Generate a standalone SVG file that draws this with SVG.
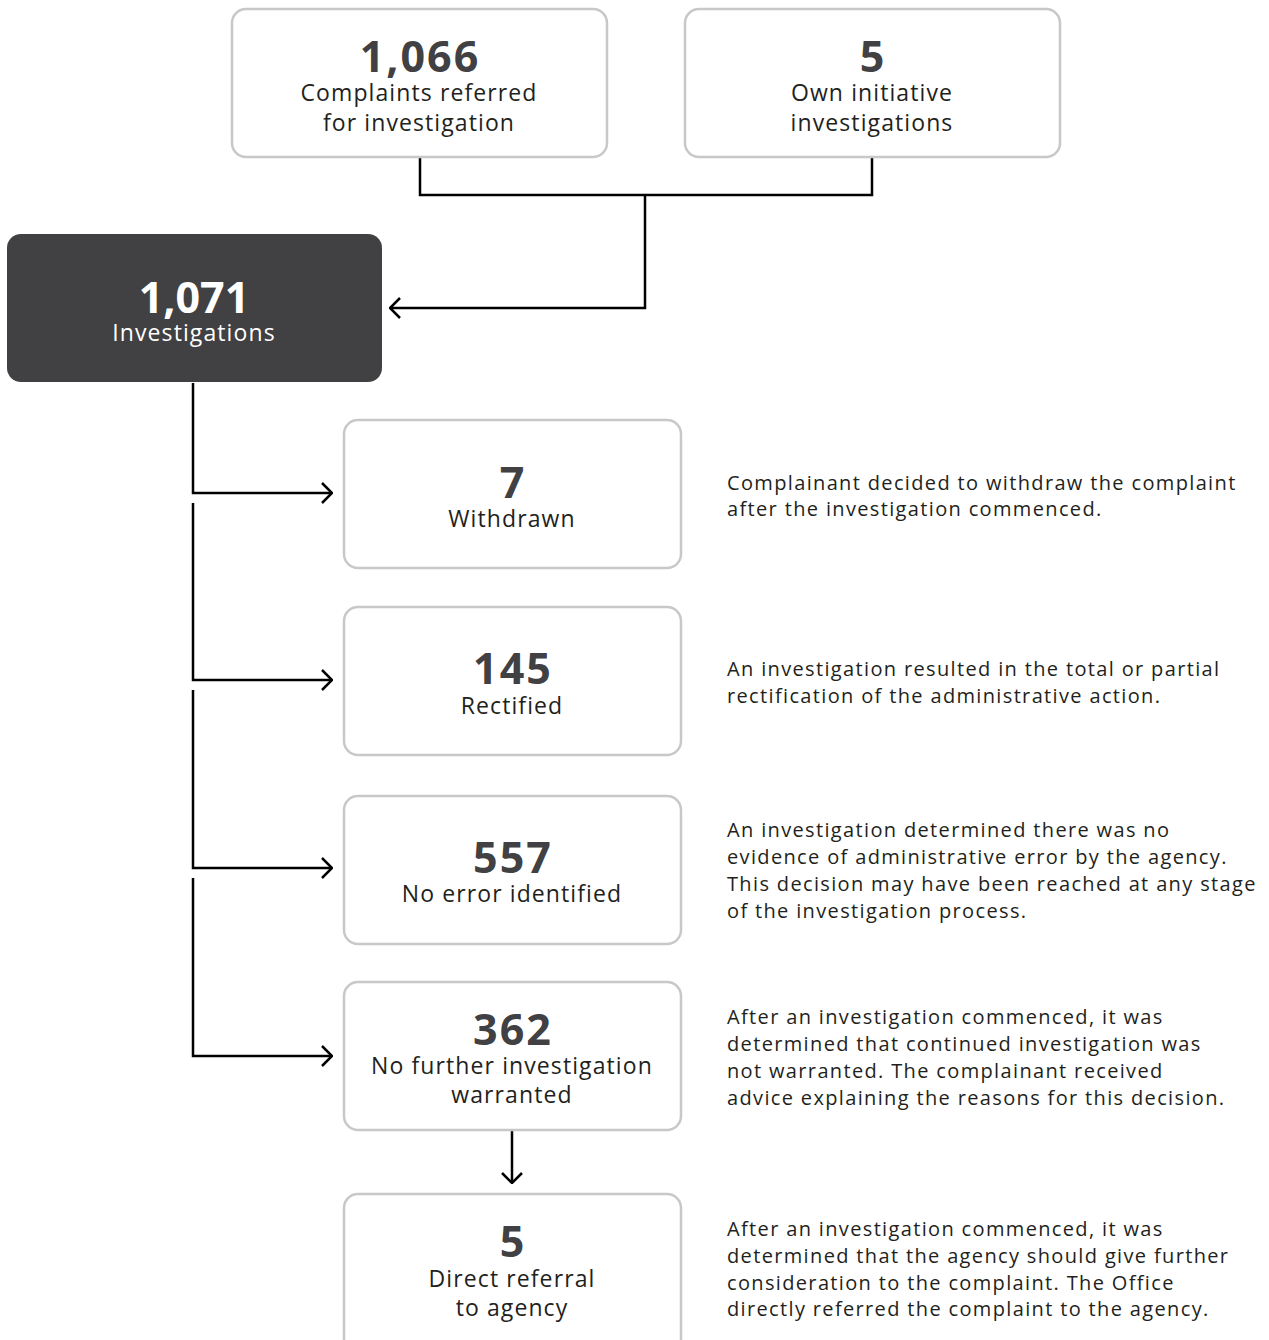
<svg xmlns="http://www.w3.org/2000/svg" width="1269" height="1340" viewBox="0 0 1269 1340">
<defs>
<style>
.box{fill:#fff;stroke:#c8c8c8;stroke-width:2.5}
.dark{fill:#414042}
.num{font-family:"Open Sans","Liberation Sans",sans-serif;font-weight:bold;font-size:43px;letter-spacing:2px;fill:#414042;text-anchor:middle}
.lbl{font-family:"Open Sans","Liberation Sans",sans-serif;font-size:23px;letter-spacing:1.1px;fill:#231f20;text-anchor:middle}
.wnum{font-family:"Open Sans","Liberation Sans",sans-serif;font-weight:bold;font-size:43px;fill:#fff;text-anchor:middle}
.wlbl{font-family:"Open Sans","Liberation Sans",sans-serif;font-size:23px;letter-spacing:1.1px;fill:#fff;text-anchor:middle}
.desc{font-family:"Open Sans","Liberation Sans",sans-serif;font-size:20px;letter-spacing:1.35px;fill:#231f20}
.con{fill:none;stroke:#000;stroke-width:2.5}
</style>
<marker id="arr" viewBox="0 0 12 22" refX="11" refY="11" markerWidth="12" markerHeight="22" markerUnits="userSpaceOnUse" orient="auto">
<path d="M1,1 L11,11 L1,21" fill="none" stroke="#000" stroke-width="2.5"/>
</marker>
</defs>
<g id="connectors">
<path class="con" d="M420,157 V195 H872 V157"/>
<path class="con" d="M645,195 V308 H390" marker-end="url(#arr)"/>
<path class="con" d="M193,383 V493 H332" marker-end="url(#arr)"/>
<path class="con" d="M193,503 V680 H332" marker-end="url(#arr)"/>
<path class="con" d="M193,690 V868 H332" marker-end="url(#arr)"/>
<path class="con" d="M193,878 V1056 H332" marker-end="url(#arr)"/>
<path class="con" d="M512,1131 V1183" marker-end="url(#arr)"/>
</g>
<g id="complaints">
<rect class="box" x="232" y="9" width="375" height="148" rx="14"/>
<text class="num" x="420" y="72">1,066</text>
<text class="lbl" x="419" y="101">Complaints referred</text>
<text class="lbl" x="419" y="131">for investigation</text>
</g>
<g id="own">
<rect class="box" x="685" y="9" width="375" height="148" rx="14"/>
<text class="num" x="873" y="72">5</text>
<text class="lbl" x="872" y="101">Own initiative</text>
<text class="lbl" x="872" y="131">investigations</text>
</g>
<g id="investigations">
<rect class="dark" x="7" y="234" width="375" height="148" rx="14"/>
<text class="wnum" x="194" y="313">1,071</text>
<text class="wlbl" x="194" y="341">Investigations</text>
</g>
<g id="withdrawn">
<rect class="box" x="344" y="420" width="337" height="148" rx="14"/>
<text class="num" x="513" y="498">7</text>
<text class="lbl" x="512" y="527">Withdrawn</text>
<text class="desc" x="727" y="490">Complainant decided to withdraw the complaint</text>
<text class="desc" x="727" y="516">after the investigation commenced.</text>
</g>
<g id="rectified">
<rect class="box" x="344" y="607" width="337" height="148" rx="14"/>
<text class="num" x="513" y="684">145</text>
<text class="lbl" x="512" y="714">Rectified</text>
<text class="desc" x="727" y="676">An investigation resulted in the total or partial</text>
<text class="desc" x="727" y="703">rectification of the administrative action.</text>
</g>
<g id="noerror">
<rect class="box" x="344" y="796" width="337" height="148" rx="14"/>
<text class="num" x="513" y="873">557</text>
<text class="lbl" x="512" y="902">No error identified</text>
<text class="desc" x="727" y="837">An investigation determined there was no</text>
<text class="desc" x="727" y="864">evidence of administrative error by the agency.</text>
<text class="desc" x="727" y="891">This decision may have been reached at any stage</text>
<text class="desc" x="727" y="918">of the investigation process.</text>
</g>
<g id="nofurther">
<rect class="box" x="344" y="982" width="337" height="148" rx="14"/>
<text class="num" x="513" y="1045">362</text>
<text class="lbl" x="512" y="1074">No further investigation</text>
<text class="lbl" x="512" y="1103">warranted</text>
<text class="desc" x="727" y="1024">After an investigation commenced, it was</text>
<text class="desc" x="727" y="1051">determined that continued investigation was</text>
<text class="desc" x="727" y="1078">not warranted. The complainant received</text>
<text class="desc" x="727" y="1105">advice explaining the reasons for this decision.</text>
</g>
<g id="referral">
<rect class="box" x="344" y="1194" width="337" height="160" rx="14"/>
<text class="num" x="513" y="1257">5</text>
<text class="lbl" x="512" y="1287">Direct referral</text>
<text class="lbl" x="512" y="1316">to agency</text>
<text class="desc" x="727" y="1236">After an investigation commenced, it was</text>
<text class="desc" x="727" y="1263">determined that the agency should give further</text>
<text class="desc" x="727" y="1290">consideration to the complaint. The Office</text>
<text class="desc" x="727" y="1316">directly referred the complaint to the agency.</text>
</g>
</svg>
